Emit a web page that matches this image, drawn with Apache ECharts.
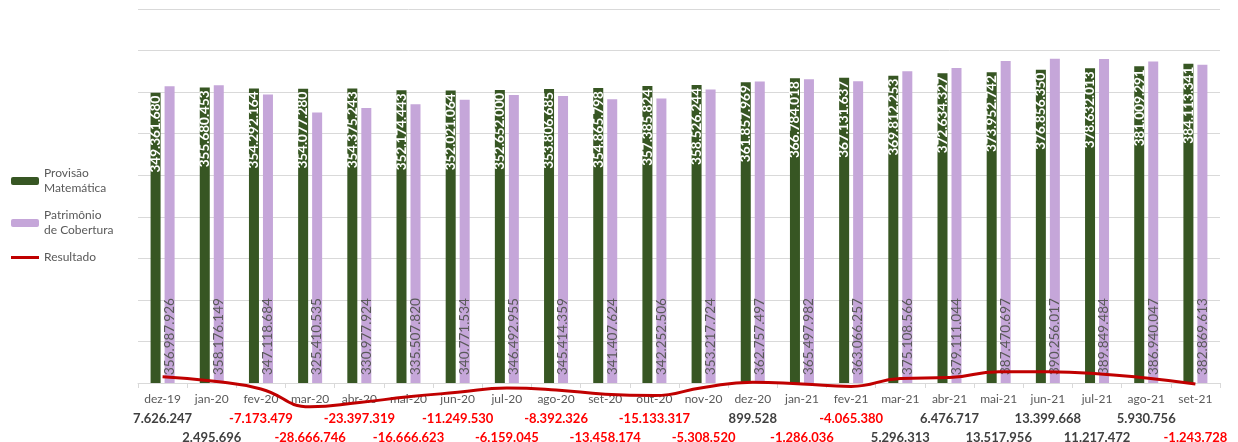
<!DOCTYPE html>
<html>
<head>
<meta charset="utf-8">
<script src="https://cdn.jsdelivr.net/npm/echarts@6/dist/echarts.min.js"></script>
<style>
html,body{margin:0;padding:0;background:#fff;}
#c{width:1238px;height:442px;}
</style>
</head>
<body>
<div id="c"></div>
<script>
const categories = ['dez-19','jan-20','fev-20','mar-20','abr-20','mai-20','jun-20','jul-20','ago-20','set-20','out-20','nov-20','dez-20','jan-21','fev-21','mar-21','abr-21','mai-21','jun-21','jul-21','ago-21','set-21'];
const provisaoMatematica = [349361680,355680453,354292164,354077280,354375243,352174443,352021064,352652000,353806685,354865798,357385824,358526244,361857969,366784018,367131637,369812253,372634327,373952742,376856350,378632013,381009291,384113341];
const patrimonioCobertura = [356987926,358176149,347118684,325410535,330977924,335507820,340771534,346492955,345414359,341407624,342252506,353217724,362757497,365497982,363066257,375108566,379111044,387470697,390256017,389849484,386940047,382869613];
const resultado = [7626247,2495696,-7173479,-28666746,-23397319,-16666623,-11249530,-6159045,-8392326,-13458174,-15133317,-5308520,899528,-1286036,-4065380,5296313,6476717,13517956,13399668,11217472,5930756,-1243728];

function fmt(v){
  const s = String(Math.abs(Math.round(v))).replace(/\B(?=(\d{3})+(?!\d))/g,'.');
  return (v < 0 ? '-' : '') + s;
}

const FONT = 'Lato';
const chart = echarts.init(document.getElementById('c'), null, {renderer:'canvas'});

const option = {
  animation: false,
  textStyle: {fontFamily: FONT},
  grid: {left: 138, right: 18, top: 9, bottom: 59},
  legend: {
    orient: 'vertical', left: 6, top: 161,
    itemWidth: 28, itemHeight: 8, itemGap: 12,
    data: ['Provisão Matemática','Patrimônio de Cobertura',{name: 'Resultado', icon: 'path://M0 0H28V3H0Z'}],
    formatter: function(n){
      if (n === 'Provisão Matemática') return 'Provisão\nMatemática';
      if (n === 'Patrimônio de Cobertura') return 'Patrimônio\nde Cobertura';
      return n;
    },
    textStyle: {fontFamily: FONT, fontSize: 12, color: '#595959', lineHeight: 15}
  },
  xAxis: {
    type: 'category', data: categories,
    axisLine: {lineStyle: {color: '#D9D9D9', width: 1}},
    axisTick: {show: true, length: 5, lineStyle: {color: '#D9D9D9'}},
    axisLabel: {color: '#595959', fontSize: 12, margin: 10, interval: 0, fontFamily: FONT}
  },
  yAxis: {
    type: 'value', min: 0, max: 450000000, interval: 50000000,
    axisLabel: {show: false}, axisLine: {show: false}, axisTick: {show: false},
    splitLine: {lineStyle: {color: '#D9D9D9', width: 1}}
  },
  series: [
    {
      name: 'Provisão Matemática', type: 'bar', data: provisaoMatematica,
      barWidth: 10, barGap: '40%',
      itemStyle: {color: '#375623'},
      label: {
        show: true, position: 'insideTop', rotate: 90, align: 'right', verticalAlign: 'middle',
        distance: 3, color: '#FFFFFF', fontSize: 13.5, fontFamily: FONT, fontWeight: 'bold',
        formatter: p => fmt(p.value)
      },
      z: 2
    },
    {
      name: 'Patrimônio de Cobertura', type: 'bar', data: patrimonioCobertura,
      barWidth: 10,
      itemStyle: {color: '#C5A6D9'},
      label: {
        show: true, position: 'insideBottom', rotate: 90, align: 'left', verticalAlign: 'middle',
        distance: 8, color: '#595959', fontSize: 13.5, fontFamily: FONT,
        formatter: p => fmt(p.value)
      },
      z: 2
    },
    {
      name: 'Resultado', type: 'line', data: resultado,
      smooth: true, symbol: 'none', clip: false,
      lineStyle: {color: '#C00000', width: 3},
      itemStyle: {color: '#C00000'},
      z: 5
    },
    {
      name: 'ResultadoLabels', type: 'line', data: resultado,
      symbol: 'circle', symbolSize: 1, silent: true, clip: false,
      lineStyle: {width: 0, opacity: 0},
      itemStyle: {color: 'rgba(0,0,0,0)'},
      label: {show: true, position: 'inside', fontSize: 13, fontWeight: 'bold', fontFamily: FONT,
        formatter: p => fmt(p.value)},
      markLine: {
        silent: true, symbol: 'none', label: {show: false},
        lineStyle: {color: '#D9D9D9', type: 'solid', width: 1},
        data: [{yAxis: -50000000}]
      },
      z: 1
    }
  ]
};
chart.setOption(option);

// place result labels in two rows below the category axis, using the chart's own scale
const zeroY = chart.convertToPixel({yAxisIndex: 0}, 0);
const labelData = resultado.map(function(v, i){
  const py = chart.convertToPixel({yAxisIndex: 0}, v);
  const rowY = zeroY + (i % 2 === 0 ? 36 : 55);
  return {
    value: v,
    label: {offset: [0, rowY - py], color: v < 0 ? '#FF0000' : '#404040'}
  };
});
chart.setOption({series: [{}, {}, {}, {name: 'ResultadoLabels', data: labelData}]});
</script>
</body>
</html>
